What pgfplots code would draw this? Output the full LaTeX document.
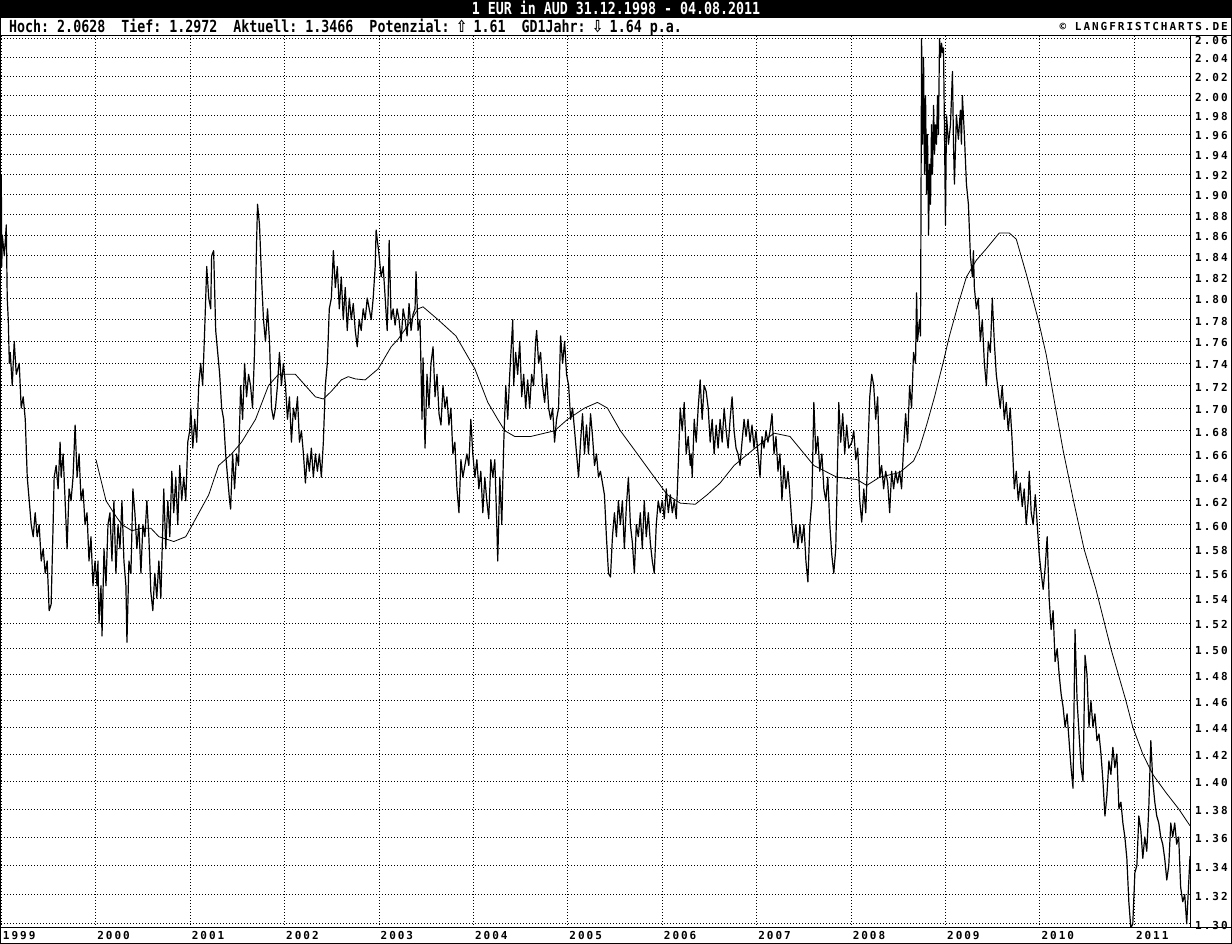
\documentclass[border=0pt]{standalone}
\usepackage{fontspec}
\usepackage{graphicx}
\usepackage{pgfplots}
\pgfplotsset{compat=1.18}
\setmainfont{DejaVu Sans}
\newfontfamily\hdr{DejaVu Sans Mono}
\newfontfamily\lbl{DejaVu Sans Mono}[LetterSpace=18]
\newfontfamily\sym{DejaVu Sans}
\newcommand\lblfont{\lbl\bfseries\fontsize{11}{12}\selectfont}
\newcommand\hdrfont{\hdr\bfseries\fontsize{13.3}{14}\selectfont}

\begin{document}
\begin{tikzpicture}
\begin{axis}[
  at={(1pt,16pt)}, anchor=south west,
  width=1189pt, height=892pt, scale only axis,
  xmin=1998.997, xmax=2011.59,
  ymode=log, ymin=1.2972, ymax=2.0628,
  xtick={1999,2000,2001,2002,2003,2004,2005,2006,2007,2008,2009,2010,2011},
  xticklabels={1999,2000,2001,2002,2003,2004,2005,2006,2007,2008,2009,2010,2011},
  ytick={1.30,1.32,1.34,1.36,1.38,1.40,1.42,1.44,1.46,1.48,1.50,1.52,1.54,1.56,1.58,1.60,1.62,1.64,1.66,1.68,1.70,1.72,1.74,1.76,1.78,1.80,1.82,1.84,1.86,1.88,1.90,1.92,1.94,1.96,1.98,2.00,2.02,2.04,2.06},
  yticklabels={1.30,1.32,1.34,1.36,1.38,1.40,1.42,1.44,1.46,1.48,1.50,1.52,1.54,1.56,1.58,1.60,1.62,1.64,1.66,1.68,1.70,1.72,1.74,1.76,1.78,1.80,1.82,1.84,1.86,1.88,1.90,1.92,1.94,1.96,1.98,2.00,2.02,2.04,2.06},
  yticklabel pos=right,
  yticklabel style={anchor=west, inner sep=0pt, xshift=5pt, yshift=-1.5pt, font=\lblfont},
  xticklabel style={anchor=north west, inner sep=0pt, xshift=1.5pt, yshift=-3.5pt, font=\lblfont},
  tick style={draw=none},
  grid=major,
  major grid style={black, line width=0.8pt, dash pattern=on 0.8pt off 2.2pt},
  axis line style={black, line width=1pt},
]
% Kurs EUR/AUD
\addplot[black, line width=1.2pt, line join=round] coordinates {
(1999.000,1.92) (1999.005,1.83) (1999.011,1.86) (1999.032,1.84) (1999.053,1.87) (1999.063,1.80)
(1999.074,1.78) (1999.085,1.74) (1999.095,1.75) (1999.116,1.72) (1999.137,1.76) (1999.159,1.73)
(1999.190,1.74) (1999.211,1.70) (1999.232,1.71) (1999.254,1.69) (1999.275,1.64) (1999.296,1.62)
(1999.317,1.60) (1999.338,1.59) (1999.359,1.61) (1999.380,1.59) (1999.401,1.60) (1999.423,1.57)
(1999.444,1.58) (1999.465,1.56) (1999.486,1.57) (1999.507,1.53) (1999.528,1.535) (1999.549,1.60)
(1999.560,1.64) (1999.581,1.65) (1999.602,1.63) (1999.623,1.67) (1999.634,1.64) (1999.655,1.66)
(1999.676,1.62) (1999.697,1.58) (1999.718,1.63) (1999.739,1.62) (1999.760,1.64) (1999.782,1.685)
(1999.803,1.64) (1999.824,1.66) (1999.845,1.62) (1999.866,1.63) (1999.887,1.60) (1999.908,1.61)
(1999.929,1.57) (1999.950,1.59) (1999.971,1.55) (1999.993,1.57) (2000.014,1.55)
(2000.024,1.57) (2000.035,1.52) (2000.056,1.55) (2000.067,1.51) (2000.088,1.58) (2000.109,1.55)
(2000.130,1.60) (2000.151,1.61) (2000.172,1.57) (2000.193,1.62) (2000.214,1.56) (2000.236,1.60)
(2000.257,1.58) (2000.278,1.62) (2000.299,1.57) (2000.320,1.55) (2000.331,1.505) (2000.352,1.57)
(2000.373,1.56) (2000.394,1.63) (2000.415,1.61) (2000.436,1.58) (2000.457,1.60) (2000.479,1.56)
(2000.500,1.60) (2000.521,1.59) (2000.542,1.62) (2000.563,1.59) (2000.584,1.545) (2000.605,1.53)
(2000.626,1.56) (2000.647,1.54) (2000.669,1.57) (2000.690,1.54) (2000.711,1.60) (2000.721,1.63)
(2000.742,1.58) (2000.764,1.62) (2000.785,1.59) (2000.806,1.645) (2000.827,1.61) (2000.848,1.64)
(2000.869,1.60) (2000.890,1.65) (2000.911,1.62) (2000.932,1.64) (2000.954,1.62) (2000.975,1.67)
(2000.996,1.68)
(2001.007,1.70) (2001.028,1.665) (2001.049,1.69) (2001.070,1.67) (2001.091,1.72) (2001.112,1.74)
(2001.133,1.72) (2001.154,1.77) (2001.176,1.83) (2001.197,1.80) (2001.218,1.79) (2001.228,1.84)
(2001.249,1.845) (2001.271,1.77) (2001.292,1.75) (2001.313,1.73) (2001.334,1.70) (2001.355,1.69)
(2001.376,1.66) (2001.397,1.64) (2001.418,1.62) (2001.429,1.613) (2001.450,1.66) (2001.471,1.63)
(2001.492,1.66) (2001.513,1.65) (2001.535,1.72) (2001.556,1.69) (2001.577,1.74) (2001.598,1.71)
(2001.619,1.73) (2001.640,1.72) (2001.661,1.70) (2001.682,1.75) (2001.703,1.85) (2001.714,1.89)
(2001.735,1.87) (2001.756,1.82) (2001.777,1.78) (2001.798,1.76) (2001.820,1.79) (2001.841,1.76)
(2001.862,1.70) (2001.883,1.69) (2001.904,1.70) (2001.925,1.72) (2001.946,1.75) (2001.967,1.72)
(2001.988,1.74)
(2002.010,1.72) (2002.031,1.69) (2002.052,1.71) (2002.073,1.67) (2002.094,1.70) (2002.115,1.69)
(2002.137,1.71) (2002.158,1.67) (2002.179,1.68) (2002.200,1.66) (2002.221,1.635) (2002.242,1.66)
(2002.263,1.645) (2002.284,1.665) (2002.305,1.64) (2002.327,1.66) (2002.348,1.645) (2002.369,1.66)
(2002.390,1.64) (2002.411,1.67) (2002.432,1.72) (2002.453,1.74) (2002.474,1.79) (2002.496,1.80)
(2002.517,1.845) (2002.538,1.81) (2002.559,1.83) (2002.580,1.79) (2002.601,1.82) (2002.622,1.78)
(2002.643,1.81) (2002.664,1.77) (2002.686,1.80) (2002.707,1.78) (2002.728,1.795) (2002.749,1.77)
(2002.770,1.755) (2002.791,1.78) (2002.812,1.77) (2002.833,1.79) (2002.854,1.78) (2002.876,1.80)
(2002.897,1.79) (2002.918,1.78) (2002.939,1.80) (2002.960,1.83) (2002.970,1.865)
(2003.002,1.84) (2003.023,1.82) (2003.045,1.83) (2003.066,1.80) (2003.087,1.77) (2003.097,1.80)
(2003.108,1.855) (2003.129,1.78) (2003.150,1.79) (2003.171,1.775) (2003.192,1.79) (2003.213,1.78)
(2003.235,1.76) (2003.256,1.79) (2003.277,1.78) (2003.298,1.765) (2003.319,1.795) (2003.340,1.77)
(2003.361,1.785) (2003.382,1.79) (2003.393,1.825) (2003.414,1.77) (2003.435,1.78) (2003.456,1.69)
(2003.467,1.745) (2003.488,1.665) (2003.509,1.73) (2003.530,1.70) (2003.551,1.74) (2003.573,1.755)
(2003.594,1.71) (2003.615,1.73) (2003.636,1.695) (2003.657,1.685) (2003.678,1.72) (2003.699,1.70)
(2003.720,1.71) (2003.741,1.685) (2003.762,1.70) (2003.783,1.66) (2003.804,1.67) (2003.826,1.63)
(2003.847,1.61) (2003.868,1.655) (2003.889,1.64) (2003.910,1.65) (2003.931,1.66) (2003.952,1.65)
(2003.973,1.69) (2003.994,1.66)
(2004.016,1.64) (2004.037,1.655) (2004.058,1.63) (2004.079,1.645) (2004.100,1.61) (2004.121,1.64)
(2004.142,1.62) (2004.163,1.605) (2004.185,1.655) (2004.206,1.64) (2004.227,1.655) (2004.248,1.60)
(2004.258,1.57) (2004.280,1.64) (2004.301,1.60) (2004.322,1.67) (2004.343,1.72) (2004.364,1.69)
(2004.385,1.73) (2004.417,1.78) (2004.427,1.72) (2004.448,1.75) (2004.469,1.73) (2004.491,1.76)
(2004.512,1.71) (2004.533,1.73) (2004.554,1.70) (2004.575,1.725) (2004.596,1.70) (2004.617,1.73)
(2004.638,1.72) (2004.659,1.76) (2004.670,1.77) (2004.691,1.74) (2004.712,1.75) (2004.733,1.72)
(2004.755,1.705) (2004.776,1.73) (2004.797,1.70) (2004.818,1.69) (2004.839,1.70) (2004.860,1.67)
(2004.881,1.69) (2004.902,1.70) (2004.924,1.765) (2004.945,1.74) (2004.966,1.76) (2004.987,1.73)
(2005.009,1.72) (2005.030,1.69) (2005.051,1.70) (2005.072,1.68) (2005.093,1.66) (2005.114,1.64)
(2005.135,1.67) (2005.156,1.695) (2005.177,1.66) (2005.198,1.685) (2005.219,1.66) (2005.241,1.695)
(2005.262,1.675) (2005.283,1.65) (2005.304,1.66) (2005.325,1.64) (2005.346,1.645) (2005.367,1.635)
(2005.388,1.625) (2005.409,1.59) (2005.431,1.56) (2005.452,1.557) (2005.473,1.59) (2005.494,1.61)
(2005.515,1.59) (2005.536,1.62) (2005.557,1.60) (2005.578,1.62) (2005.599,1.58) (2005.620,1.615)
(2005.642,1.64) (2005.663,1.60) (2005.684,1.585) (2005.705,1.56) (2005.726,1.60) (2005.747,1.59)
(2005.768,1.61) (2005.789,1.58) (2005.810,1.62) (2005.831,1.59) (2005.853,1.61) (2005.874,1.585)
(2005.895,1.57) (2005.916,1.56) (2005.937,1.60) (2005.958,1.62) (2005.979,1.61)
(2006.001,1.62) (2006.022,1.605) (2006.043,1.63) (2006.065,1.61) (2006.086,1.625) (2006.107,1.61)
(2006.128,1.62) (2006.149,1.605) (2006.170,1.65) (2006.191,1.70) (2006.212,1.68) (2006.233,1.705)
(2006.254,1.66) (2006.275,1.675) (2006.297,1.65) (2006.307,1.66) (2006.318,1.64) (2006.339,1.69)
(2006.360,1.67) (2006.381,1.70) (2006.402,1.725) (2006.423,1.69) (2006.444,1.72) (2006.465,1.715)
(2006.487,1.70) (2006.508,1.67) (2006.529,1.69) (2006.550,1.66) (2006.571,1.685) (2006.592,1.665)
(2006.613,1.69) (2006.635,1.67) (2006.656,1.70) (2006.677,1.68) (2006.698,1.665) (2006.719,1.69)
(2006.740,1.71) (2006.761,1.68) (2006.782,1.665) (2006.803,1.66) (2006.824,1.65) (2006.845,1.67)
(2006.867,1.69) (2006.888,1.675) (2006.909,1.69) (2006.930,1.67) (2006.951,1.685) (2006.972,1.665)
(2006.993,1.68)
(2007.015,1.66) (2007.036,1.64) (2007.057,1.675) (2007.078,1.665) (2007.099,1.68) (2007.120,1.67)
(2007.142,1.68) (2007.163,1.695) (2007.184,1.66) (2007.205,1.675) (2007.226,1.645) (2007.247,1.66)
(2007.268,1.62) (2007.289,1.65) (2007.310,1.63) (2007.332,1.645) (2007.353,1.625) (2007.374,1.60)
(2007.395,1.585) (2007.416,1.60) (2007.437,1.58) (2007.458,1.60) (2007.479,1.585) (2007.501,1.60)
(2007.522,1.57) (2007.543,1.553) (2007.564,1.60) (2007.585,1.62) (2007.606,1.705) (2007.627,1.66)
(2007.648,1.675) (2007.669,1.645) (2007.691,1.66) (2007.712,1.63) (2007.733,1.62) (2007.754,1.64)
(2007.775,1.60) (2007.796,1.575) (2007.817,1.56) (2007.838,1.58) (2007.859,1.66) (2007.870,1.705)
(2007.891,1.67) (2007.912,1.695) (2007.933,1.66) (2007.954,1.685) (2007.975,1.665)
(2008.008,1.67) (2008.029,1.68) (2008.050,1.655) (2008.071,1.665) (2008.092,1.62) (2008.113,1.602)
(2008.135,1.63) (2008.156,1.61) (2008.177,1.66) (2008.198,1.71) (2008.219,1.73) (2008.240,1.72)
(2008.261,1.69) (2008.282,1.71) (2008.303,1.64) (2008.324,1.65) (2008.345,1.63) (2008.367,1.645)
(2008.388,1.635) (2008.409,1.61) (2008.430,1.645) (2008.451,1.63) (2008.472,1.645) (2008.493,1.635)
(2008.514,1.645) (2008.535,1.63) (2008.556,1.665) (2008.578,1.695) (2008.599,1.67) (2008.620,1.72)
(2008.641,1.70) (2008.662,1.75) (2008.683,1.74) (2008.694,1.805) (2008.704,1.76) (2008.725,1.78)
(2008.736,1.765) (2008.747,2.06) (2008.757,1.95) (2008.768,2.04) (2008.778,1.92) (2008.789,2.00)
(2008.800,1.90) (2008.810,1.96) (2008.821,1.86) (2008.831,1.93) (2008.842,1.89) (2008.852,1.97)
(2008.863,1.92) (2008.874,1.99) (2008.884,1.94) (2008.895,1.97) (2008.905,1.95) (2008.916,2.00)
(2008.926,1.96) (2008.937,2.06) (2008.948,2.04) (2008.958,2.055) (2008.969,2.045) (2008.979,2.05)
(2008.990,1.96) (2009.000,1.87) (2009.011,1.98) (2009.032,1.95) (2009.053,1.97) (2009.074,2.025)
(2009.085,1.95) (2009.095,1.91) (2009.116,1.98) (2009.137,1.955) (2009.158,1.985) (2009.169,1.95)
(2009.179,2.00) (2009.200,1.96) (2009.222,1.91) (2009.243,1.89) (2009.264,1.84) (2009.285,1.82)
(2009.296,1.845) (2009.306,1.81) (2009.327,1.79) (2009.348,1.80) (2009.369,1.76) (2009.390,1.78)
(2009.412,1.74) (2009.433,1.72) (2009.454,1.76) (2009.475,1.75) (2009.496,1.80) (2009.517,1.76)
(2009.538,1.73) (2009.559,1.715) (2009.580,1.70) (2009.601,1.72) (2009.623,1.69) (2009.644,1.705)
(2009.665,1.68) (2009.686,1.70) (2009.707,1.67) (2009.729,1.63) (2009.750,1.645) (2009.771,1.62)
(2009.792,1.635) (2009.813,1.615) (2009.834,1.63) (2009.855,1.60) (2009.876,1.62) (2009.887,1.645)
(2009.908,1.61) (2009.929,1.60) (2009.951,1.625) (2009.972,1.60) (2009.993,1.575)
(2010.014,1.56) (2010.035,1.547) (2010.056,1.565) (2010.077,1.59) (2010.098,1.54) (2010.119,1.515)
(2010.140,1.53) (2010.161,1.49) (2010.183,1.50) (2010.204,1.48) (2010.225,1.465) (2010.246,1.455)
(2010.267,1.44) (2010.288,1.45) (2010.309,1.43) (2010.330,1.41) (2010.351,1.395) (2010.372,1.515)
(2010.394,1.46) (2010.415,1.435) (2010.436,1.41) (2010.457,1.40) (2010.478,1.495) (2010.499,1.48)
(2010.520,1.44) (2010.541,1.46) (2010.562,1.44) (2010.583,1.45) (2010.605,1.43) (2010.626,1.435)
(2010.647,1.42) (2010.668,1.40) (2010.689,1.375) (2010.710,1.39) (2010.731,1.415) (2010.752,1.405)
(2010.773,1.425) (2010.794,1.41) (2010.815,1.42) (2010.837,1.38) (2010.858,1.385) (2010.879,1.37)
(2010.900,1.36) (2010.921,1.345) (2010.942,1.315) (2010.963,1.2972) (2010.984,1.30)
(2011.006,1.335) (2011.027,1.34) (2011.048,1.375) (2011.069,1.365) (2011.090,1.345) (2011.111,1.36)
(2011.132,1.35) (2011.153,1.38) (2011.175,1.43) (2011.196,1.40) (2011.217,1.385) (2011.238,1.375)
(2011.259,1.37) (2011.280,1.36) (2011.301,1.355) (2011.322,1.345) (2011.344,1.33) (2011.365,1.34)
(2011.386,1.37) (2011.407,1.36) (2011.428,1.37) (2011.449,1.355) (2011.470,1.36) (2011.491,1.325)
(2011.513,1.315) (2011.534,1.32) (2011.555,1.30) (2011.590,1.3466)
};
% gleitender Durchschnitt (1 Jahr)
\addplot[black, line width=0.8pt, line join=round] coordinates {
(2000.003,1.655) (2000.109,1.62) (2000.214,1.607) (2000.278,1.60) (2000.383,1.595) (2000.489,1.597)
(2000.584,1.597) (2000.669,1.59) (2000.827,1.586) (2000.954,1.59) (2001.059,1.605) (2001.197,1.625)
(2001.302,1.65) (2001.439,1.66) (2001.545,1.67) (2001.693,1.69) (2001.830,1.72) (2001.936,1.73)
(2002.010,1.73) (2002.115,1.73) (2002.221,1.72) (2002.327,1.71) (2002.411,1.708) (2002.496,1.715)
(2002.601,1.725) (2002.675,1.728) (2002.749,1.726) (2002.854,1.725) (2002.992,1.735) (2003.129,1.755)
(2003.203,1.762) (2003.309,1.775) (2003.414,1.79) (2003.467,1.792) (2003.625,1.78) (2003.815,1.765)
(2004.016,1.735) (2004.153,1.705) (2004.258,1.69) (2004.333,1.68) (2004.438,1.675) (2004.607,1.675)
(2004.755,1.678) (2004.860,1.68) (2004.998,1.69) (2005.177,1.70) (2005.314,1.705) (2005.420,1.70)
(2005.557,1.68) (2005.737,1.66) (2005.916,1.64) (2006.054,1.625) (2006.191,1.618) (2006.350,1.617)
(2006.476,1.625) (2006.613,1.635) (2006.761,1.65) (2006.983,1.665) (2007.184,1.678) (2007.353,1.675)
(2007.606,1.65) (2007.849,1.64) (2008.061,1.638) (2008.166,1.633) (2008.303,1.64) (2008.514,1.644)
(2008.662,1.654) (2008.725,1.665) (2008.800,1.685) (2008.884,1.71) (2008.979,1.742) (2009.042,1.765)
(2009.137,1.795) (2009.222,1.82) (2009.327,1.836) (2009.433,1.847) (2009.570,1.862) (2009.676,1.862)
(2009.750,1.856) (2009.855,1.823) (2009.982,1.78) (2010.067,1.748) (2010.172,1.697) (2010.246,1.663)
(2010.351,1.622) (2010.467,1.58) (2010.594,1.547) (2010.752,1.50) (2010.911,1.46) (2010.984,1.44)
(2011.090,1.42) (2011.196,1.405) (2011.334,1.392) (2011.471,1.38) (2011.590,1.368)
};
\end{axis}
% Rahmen und Kopfzeilen
\fill[black] (0pt,926pt) rectangle (1232pt,944pt);
\draw[line width=1pt] (0.5pt,0.5pt) rectangle (1231.5pt,926pt);
\draw[line width=1pt] (0pt,908pt) -- (1232pt,908pt);
\draw[line width=1pt] (0pt,16pt) -- (1232pt,16pt);
\draw[line width=1pt] (1190pt,16pt) -- (1190pt,908pt);
\node[anchor=base, inner sep=0pt, text=white, font=\hdrfont] at (616pt,929pt)
  {\scalebox{1}[1.25]{1 EUR in AUD 31.12.1998 - 04.08.2011}};
\node[anchor=base west, inner sep=0pt, font=\hdrfont] at (9pt,911pt)
  {\scalebox{1}[1.25]{Hoch:~2.0628~~Tief:~1.2972~~Aktuell:~1.3466~~Potenzial:~\makebox[0.602em]{\sym ⇧}~1.61~~GD1Jahr:~\makebox[0.602em]{\sym ⇩}~1.64~p.a.}};
\node[anchor=base east, inner sep=0pt, font=\lblfont] at (1228pt,913pt) {© LANGFRISTCHARTS.DE};
\pgfresetboundingbox
\path (0pt,0pt) rectangle (1232pt,944pt);
\end{tikzpicture}
\end{document}
